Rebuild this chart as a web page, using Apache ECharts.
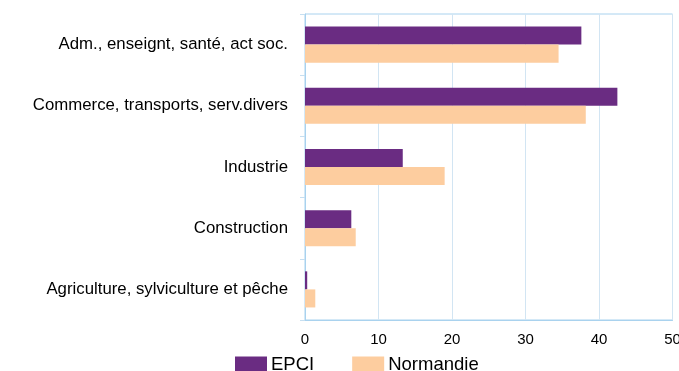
<!DOCTYPE html>
<html>
<head>
<meta charset="utf-8">
<script src="https://cdn.jsdelivr.net/npm/echarts@6/dist/echarts.min.js"></script>
<style>
  html, body { margin: 0; padding: 0; background: #fff; }
  #chart { width: 679px; height: 371px; }
</style>
</head>
<body>
<div id="chart"></div>
<script>
// Sectors, listed from top to bottom
const categories = [
  'Adm., enseignt, santé, act soc.',
  'Commerce, transports, serv.divers',
  'Industrie',
  'Construction',
  'Agriculture, sylviculture et pêche'
];
const epci = [37.6, 42.5, 13.3, 6.3, 0.3];
const normandie = [34.5, 38.2, 19.0, 6.9, 1.4];
const xTicks = { min: 0, max: 50, interval: 10 };

const font = 'Liberation Sans, Arial, sans-serif';
const chart = echarts.init(document.getElementById('chart'));
chart.setOption({
  animation: false,
  textStyle: { fontFamily: font },
  grid: {
    left: 305, right: 6.5, top: 14, bottom: 51,
    outerBoundsMode: 'none',
    show: true, borderColor: '#a9d2ee', borderWidth: 1
  },
  legend: {
    left: 230, top: 350,
    itemWidth: 32, itemHeight: 16, itemGap: 38,
    icon: 'rect',
    textStyle: { fontSize: 18.5, color: '#000', fontFamily: font, padding: [0, 0, 0, -1] },
    data: ['EPCI', 'Normandie']
  },
  xAxis: {
    type: 'value',
    min: xTicks.min, max: xTicks.max, interval: xTicks.interval,
    axisLine: { show: true, lineStyle: { color: '#a9d2ee' } },
    axisTick: { show: false },
    axisLabel: { color: '#000', fontSize: 15, margin: 12 },
    splitLine: { show: true, lineStyle: { color: '#d2e5f3' } }
  },
  yAxis: {
    type: 'category',
    inverse: true,
    data: categories,
    axisLine: { show: true, lineStyle: { color: '#a9d2ee' } },
    axisTick: { show: true, length: 5, lineStyle: { color: '#c6dff1' } },
    axisLabel: { color: '#000', fontSize: 16.8, margin: 17, padding: [2, 0, 0, 0] }
  },
  series: [
    {
      name: 'EPCI', type: 'bar', data: epci,
      itemStyle: { color: '#6a2c82' },
      barGap: '0%', barCategoryGap: '41%'
    },
    {
      name: 'Normandie', type: 'bar', data: normandie,
      itemStyle: { color: '#fdcd9f' },
      barGap: '0%', barCategoryGap: '41%'
    }
  ]
});
</script>
</body>
</html>
